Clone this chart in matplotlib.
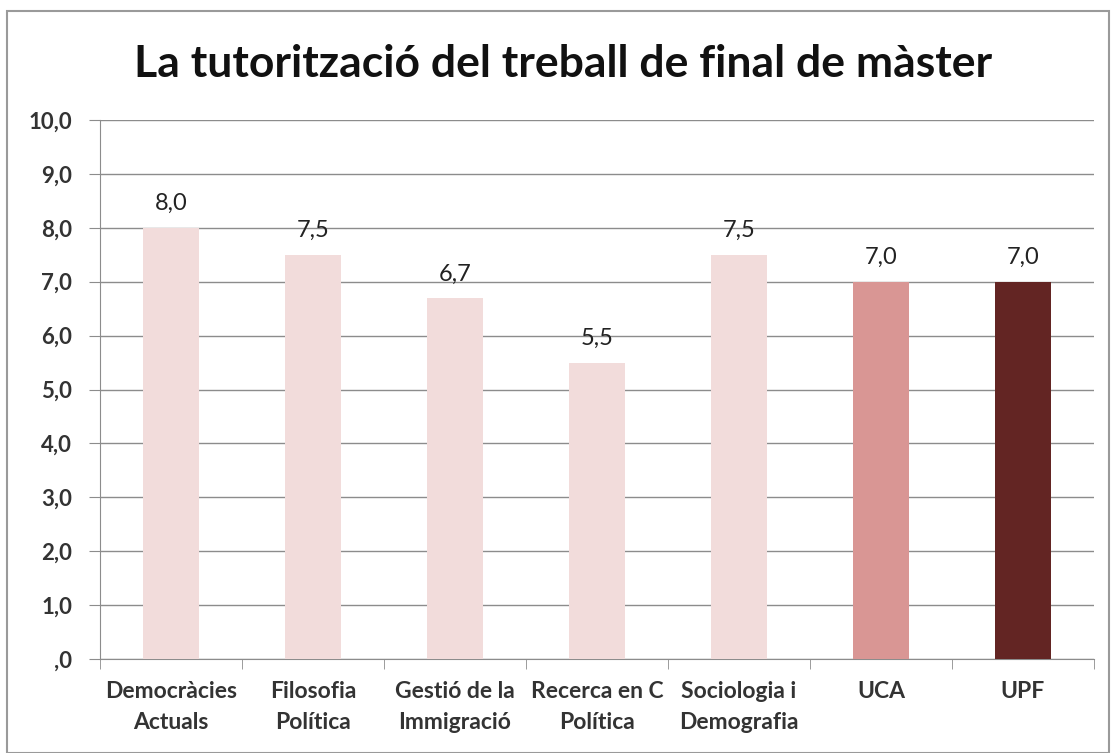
import matplotlib
matplotlib.use("Agg")
import matplotlib.pyplot as plt
import numpy as np
from matplotlib.patches import Rectangle

# dades
categories = ["Democràcies\nActuals", "Filosofia\nPolítica", "Gestió de la\nImmigració",
              "Recerca en C\nPolítica", "Sociologia i\nDemografia", "UCA", "UPF"]
values = [8.0, 7.5, 6.7, 5.5, 7.5, 7.0, 7.0]
bar_colors = ["#F2DCDB", "#F2DCDB", "#F2DCDB", "#F2DCDB", "#F2DCDB", "#D99694", "#632523"]

plt.rcParams['font.family'] = ['Lato', 'DejaVu Sans']

fig = plt.figure(figsize=(11.13, 7.53), dpi=100)
fig.patches.append(Rectangle((0.006, 0.0), 0.99, 0.985, transform=fig.transFigure,
                             fill=False, edgecolor="#9a9a9a", linewidth=1.5))

ax = fig.add_axes([100/1113, 1 - 659/753, 994/1113, 539/753])
x = np.arange(len(categories))
bars = ax.bar(x, values, width=0.4, color=bar_colors, zorder=3)

for rect, v in zip(bars, values):
    ax.text(rect.get_x() + rect.get_width()/2, v + 0.25, ("%.1f" % v).replace(".", ","),
            ha="center", va="bottom", fontsize=17, color="#222222")

ax.set_xlim(-0.5, len(categories) - 0.5)
ax.set_ylim(0, 10)
yt = np.arange(0, 11)
ax.set_yticks(yt)
ax.set_yticklabels([",0" if v == 0 else ("%.1f" % v).replace(".", ",") for v in yt],
                   fontsize=16, fontweight="bold", color="#333333")
ax.grid(axis="y", color="#8c8c8c", linewidth=1, zorder=0)

ax.set_xticks(x)
ax.set_xticklabels(categories, fontsize=16.5, fontweight="bold", color="#333333",
                   linespacing=1.55)
ax.set_xticks(np.arange(-0.5, len(categories)), minor=True)
ax.tick_params(axis="x", which="major", length=0, pad=16)
ax.tick_params(axis="x", which="minor", length=7, color="#8c8c8c")
ax.tick_params(axis="y", length=8, color="#8c8c8c", pad=12)

for s in ["top", "right"]:
    ax.spines[s].set_visible(False)
ax.spines["left"].set_color("#8c8c8c")
ax.spines["bottom"].set_color("#8c8c8c")

fig.text(0.506, 0.915, "La tutorització del treball de final de màster",
         ha="center", va="center", fontsize=32, fontweight="bold", color="#111111")

fig.savefig("out.png", dpi=100)
